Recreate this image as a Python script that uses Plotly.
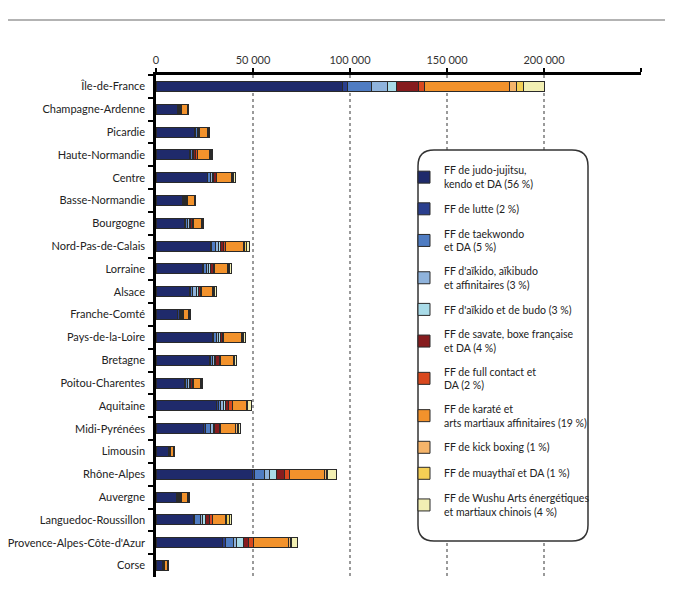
import plotly.graph_objects as go

regions = ["Île-de-France", "Champagne-Ardenne", "Picardie", "Haute-Normandie", "Centre",
           "Basse-Normandie", "Bourgogne", "Nord-Pas-de-Calais", "Lorraine", "Alsace",
           "Franche-Comté", "Pays-de-la-Loire", "Bretagne", "Poitou-Charentes", "Aquitaine",
           "Midi-Pyrénées", "Limousin", "Rhône-Alpes", "Auvergne", "Languedoc-Roussillon",
           "Provence-Alpes-Côte-d'Azur", "Corse"]

judo =      [96240, 10900, 20000, 17400, 26300, 13500, 14900, 28000, 23900, 17100, 11300, 29100, 27400, 14900, 31100, 24600, 6300, 49900, 10600, 19500, 34500, 3400]
lutte =     [2600, 600, 500, 400, 500, 500, 500, 800, 600, 500, 600, 600, 800, 500, 900, 1000, 200, 1000, 500, 300, 1400, 200]
taekwondo = [12360, 700, 800, 900, 1300, 700, 800, 1700, 1300, 1200, 500, 1300, 900, 700, 1300, 2600, 200, 5000, 600, 3100, 4100, 200]
aikibudo =  [7930, 200, 400, 500, 1000, 500, 900, 1500, 1200, 2100, 600, 1300, 1000, 1200, 1400, 1200, 200, 2600, 500, 1300, 1700, 200]
budo =      [4950, 200, 300, 300, 700, 300, 700, 1100, 1200, 800, 400, 1100, 800, 500, 1200, 800, 200, 3400, 400, 1300, 3400, 100]
savate =    [11330, 200, 200, 800, 1300, 300, 1000, 1500, 1500, 1300, 300, 1000, 1600, 800, 1700, 2400, 200, 4300, 300, 2000, 2700, 100]
fullc =     [3100, 300, 200, 1000, 300, 200, 300, 1000, 700, 300, 600, 400, 1000, 500, 2000, 600, 100, 2600, 400, 1700, 2700, 100]
karate =    [43790, 2900, 4300, 6300, 7300, 3600, 4200, 9500, 6300, 6000, 2600, 9400, 6200, 3600, 6800, 7900, 1700, 18300, 2700, 6500, 17800, 1400]
kick =      [3300, 300, 400, 400, 500, 300, 400, 500, 500, 300, 300, 600, 500, 400, 500, 700, 200, 900, 500, 700, 1200, 200]
muay =      [3770, 200, 300, 400, 500, 200, 300, 1000, 700, 300, 200, 500, 400, 400, 400, 500, 200, 300, 400, 1300, 500, 200]
wushu =     [10660, 300, 300, 800, 1300, 400, 600, 1500, 1000, 1100, 400, 800, 800, 400, 1700, 1300, 200, 4800, 500, 1300, 3100, 100]

series_names = [
    "FF de judo-jujitsu,<br>kendo et DA (56 %)",
    "FF de lutte (2 %)",
    "FF de taekwondo<br>et DA (5 %)",
    "FF d'aïkido, aïkibudo<br>et affinitaires (3 %)",
    "FF d'aïkido et de budo (3 %)",
    "FF de savate, boxe française<br>et DA (4 %)",
    "FF de full contact et<br>DA (2 %)",
    "FF de karaté et<br>arts martiaux affinitaires (19 %)",
    "FF de kick boxing (1 %)",
    "FF de muaythaï et DA (1 %)",
    "FF de Wushu Arts énergétiques<br>et martiaux chinois (4 %)",
]
series_values = [judo, lutte, taekwondo, aikibudo, budo, savate, fullc, karate, kick, muay, wushu]
colors = ["#1f2a6b", "#2a3f8e", "#4f7cc2", "#8fb3dc", "#a9dbe8", "#861c1e",
          "#d9481e", "#f2922c", "#f5b46a", "#f4cf55", "#f2efb3"]

tick_vals = [0, 50000, 100000, 150000, 200000, 250000]
tick_text = ["0", "50 000", "100 000", "150 000", "200 000", ""]

# the page body has an 8px margin: work in window coordinates and shift
OFF = 8
W, H = 673 - OFF, 599 - OFF
L, T = 156 - OFF, 75 - OFF
R = W - (641 - OFF)
B = H - (577 - OFF)
PW, PH = W - L - R, H - T - B

fig = go.Figure()
for i, (name, vals, col) in enumerate(zip(series_names, series_values, colors)):
    fig.add_trace(go.Bar(
        y=regions, x=vals, name=name, orientation="h",
        marker=dict(color=col, line=dict(color="#2a2a2a", width=1)),
        legendgroup=f"g{i}",
    ))

def px2paper(x, y):
    # x, y in window pixels
    return (x - OFF - L) / PW, (H - B - (y - OFF)) / PH

def P(x, y):
    px, py = px2paper(x, y)
    return f"{px:.5f},{py:.5f}"

# rounded legend box
x0, y0, x1, y1, r = 418, 150, 588, 541, 16
path = (f"M {P(x0 + r, y0)} L {P(x1 - r, y0)} Q {P(x1, y0)} {P(x1, y0 + r)} "
        f"L {P(x1, y1 - r)} Q {P(x1, y1)} {P(x1 - r, y1)} "
        f"L {P(x0 + r, y1)} Q {P(x0, y1)} {P(x0, y1 - r)} "
        f"L {P(x0, y0 + r)} Q {P(x0, y0)} {P(x0 + r, y0)} Z")
fig.add_shape(type="path", path=path, xref="paper", yref="paper",
              line=dict(color="#333333", width=1.5), fillcolor="white", layer="above")

# header rule
hx0, hy = px2paper(OFF, 20)
hx1, _ = px2paper(673, 20)
fig.add_shape(type="line", xref="paper", yref="paper", x0=hx0, x1=hx1, y0=hy, y1=hy,
              line=dict(color="#9a9a9a", width=1.5))

lx, ly = px2paper(404, 157)
fig.update_layout(
    width=W, height=H,
    margin=dict(l=L, r=R, t=T, b=B, pad=0, autoexpand=False),
    barmode="stack", bargap=0.56,
    plot_bgcolor="white", paper_bgcolor="white",
    font=dict(family="Lato", size=11, color="#222"),
    xaxis=dict(side="top", range=[0, 250000], tickvals=tick_vals, ticktext=tick_text,
               showgrid=True, gridcolor="#9a9a9a", griddash="dot", gridwidth=1.5,
               showline=True, linecolor="black", linewidth=2.5,
               ticks="outside", ticklen=4, tickwidth=2, tickcolor="black",
               tickfont=dict(size=11, color="#333"), zeroline=False,
               automargin=False, fixedrange=True),
    yaxis=dict(categoryorder="array", categoryarray=regions, autorange="reversed",
               showline=True, linecolor="black", linewidth=2.5,
               ticks="outside", ticklen=5, tickwidth=2, tickcolor="black",
               tickson="boundaries", tickfont=dict(size=11, color="#222"),
               ticklabelstandoff=6, showgrid=False, automargin=False),
    legend=dict(x=lx, y=ly, xanchor="left", yanchor="top",
                bgcolor="rgba(0,0,0,0)", borderwidth=0,
                font=dict(family="Lato", size=10.5, color="#222"),
                traceorder="grouped", tracegroupgap=7, itemwidth=30,
                valign="middle"),
    showlegend=True,
)

fig.write_html("out.html")
